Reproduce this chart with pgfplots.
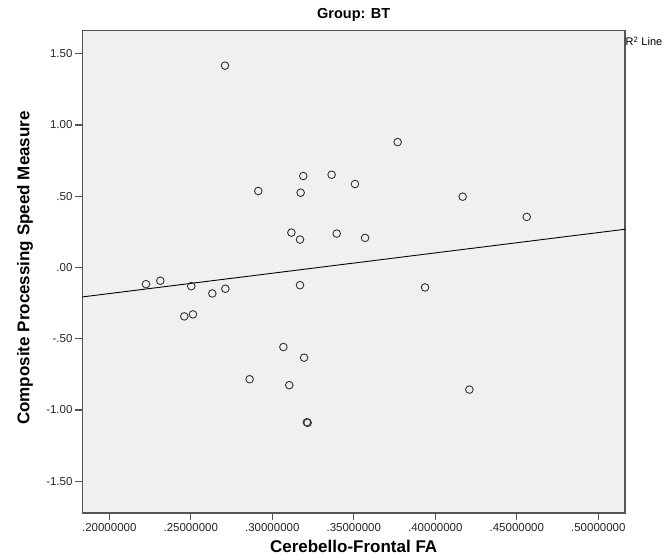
\documentclass[border=0pt]{standalone}
\usepackage{fontspec}
\setmainfont{Liberation Sans}
\usepackage{pgfplots}
\pgfplotsset{compat=1.18}
\definecolor{bgc}{HTML}{F0F0F0}
\definecolor{framec}{HTML}{555555}
\definecolor{markc}{HTML}{333333}
\begin{document}
\begin{tikzpicture}
\path[use as bounding box] (-82.3bp,-47bp) rectangle (585.7bp,513bp);
\begin{axis}[
  name=ax,
  at={(0,0)}, anchor=south west,
  scale only axis, width=542.7bp, height=482.3bp,
  xmin=0.18344, xmax=0.51638, ymin=-1.723, ymax=1.662,
  axis background/.style={fill=bgc},
  axis line style={draw=framec, line width=1.4bp},
  xtick={0.2,0.25,0.3,0.35,0.4,0.45,0.5},
  xticklabels={.20000000,.25000000,.30000000,.35000000,.40000000,.45000000,.50000000},
  ytick={-1.5,-1,-0.5,0,0.5,1,1.5},
  yticklabels={-1.50,-1.00,-.50,.00,.50,1.00,1.50},
  tick align=outside,
  xtick pos=bottom, ytick pos=left,
  major tick length=7.3bp,
  tick style={draw=framec, line width=1.2bp},
  ticklabel style={font=\fontsize{11.5bp}{13bp}\selectfont, text=black!85},
  yticklabel style={xshift=1bp},
  title={Group: BT},
  title style={at={(axis description cs:0.5,1)}, anchor=base, yshift=6bp, inner sep=0pt,
    font=\bfseries\fontsize{14.5bp}{16bp}\selectfont},
  xlabel={Cerebello-Frontal FA},
  xlabel style={at={(axis description cs:0.5,0)}, anchor=center, yshift=-33bp,
    font=\bfseries\fontsize{17bp}{19bp}\selectfont},
  ylabel={Composite Processing Speed Measure},
  ylabel style={at={(axis description cs:0,0.508)}, anchor=center, yshift=57.3bp,
    font=\bfseries\fontsize{17bp}{19bp}\selectfont},
]
\addplot[black, line width=0.9bp] coordinates {(0.18344,-0.2066) (0.51638,0.2685)};
\addplot[only marks, mark=o, mark size=3.8bp, mark options={draw=markc, line width=0.9bp}] table {
x y
0.2710 1.417
0.3190 0.642
0.2914 0.537
0.3174 0.525
0.3117 0.245
0.3170 0.196
0.3769 0.880
0.3364 0.651
0.3507 0.586
0.4168 0.497
0.4561 0.355
0.3395 0.238
0.3569 0.208
0.2225 -0.117
0.2313 -0.093
0.2503 -0.131
0.2632 -0.182
0.2712 -0.149
0.3170 -0.124
0.2460 -0.343
0.2513 -0.329
0.3068 -0.558
0.3195 -0.633
0.2861 -0.784
0.3104 -0.826
0.3212 -1.086
0.3217 -1.090
0.3937 -0.140
0.4209 -0.857
};
\end{axis}
\node[anchor=base west, inner sep=0pt, font=\fontsize{11bp}{13bp}\selectfont, xshift=0.5bp, yshift=-15.3bp] at (ax.north east) {R\textsuperscript{2} Line};
\end{tikzpicture}
\end{document}
